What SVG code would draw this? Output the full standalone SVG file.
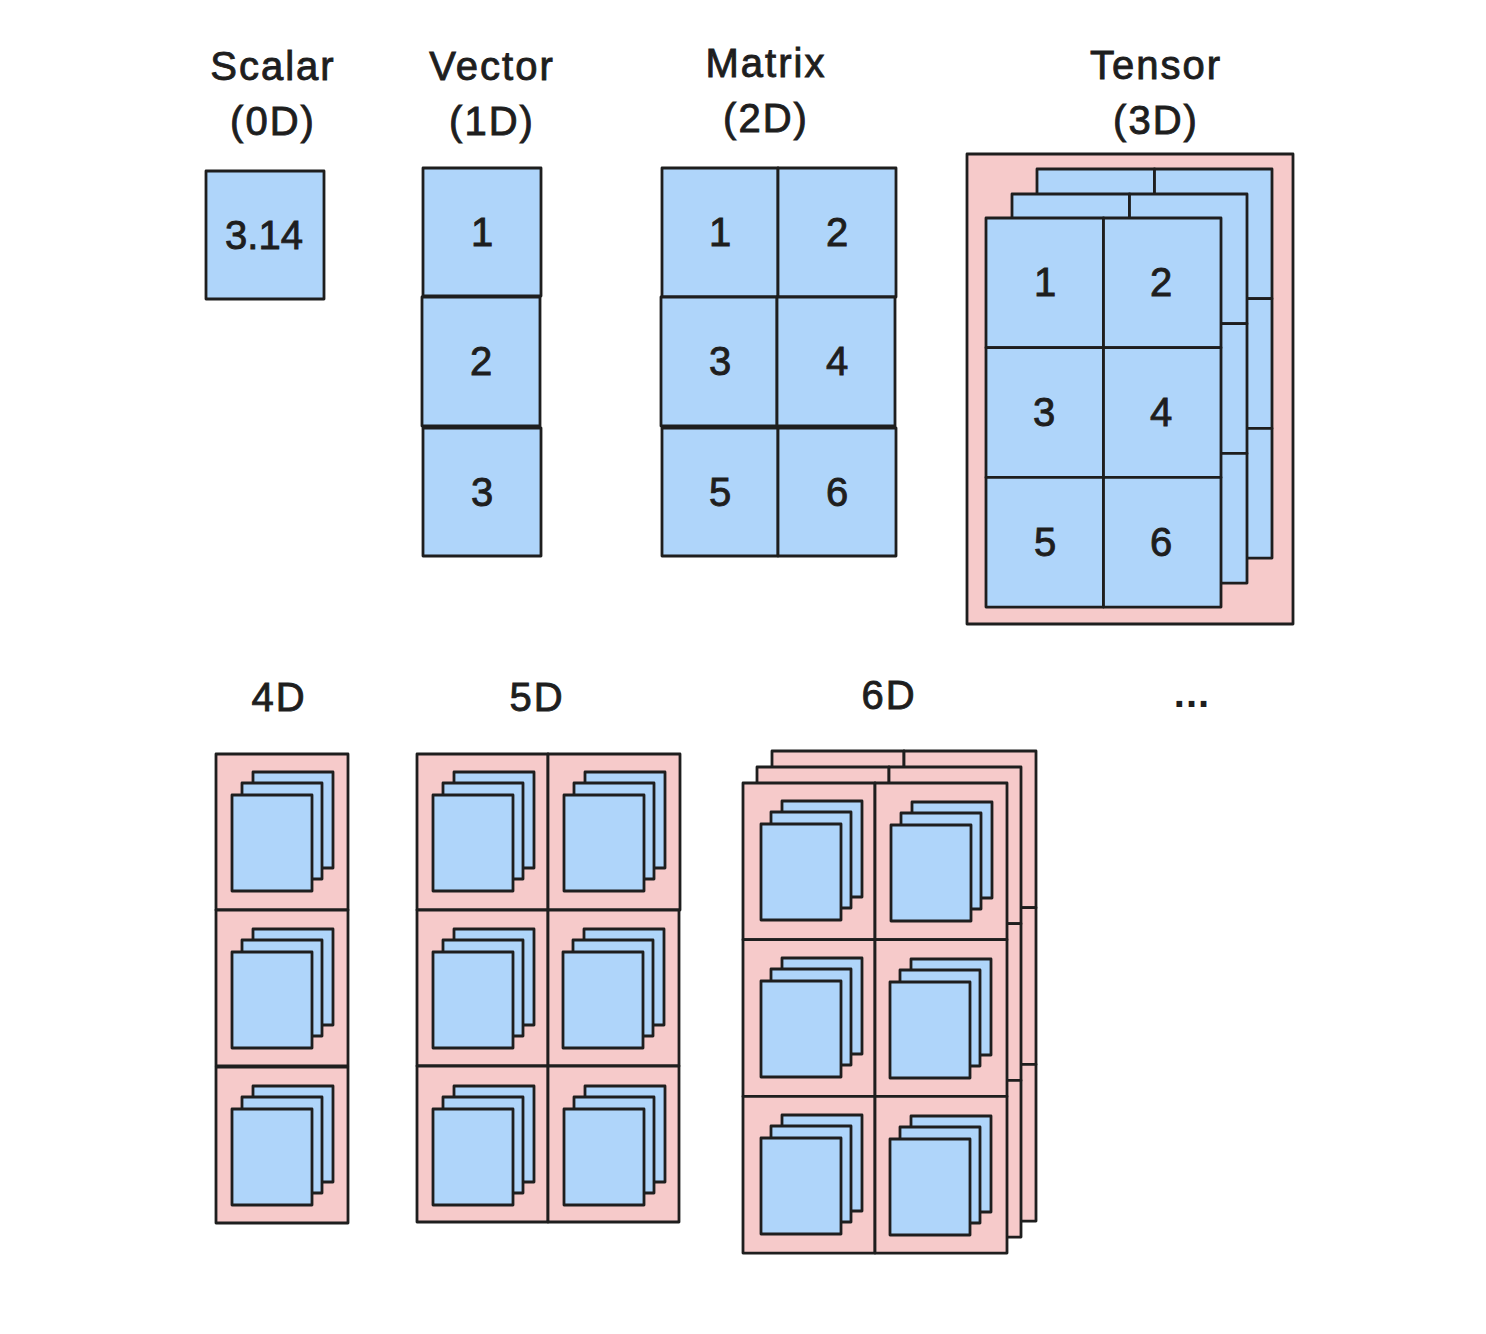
<svg xmlns="http://www.w3.org/2000/svg" xmlns:xlink="http://www.w3.org/1999/xlink" width="1486" height="1334" viewBox="0 0 1486 1334">
<style>
.b{fill:#afd5fa;stroke:#1e1e1e;stroke-width:2.8;stroke-linejoin:round}
.p{fill:#f6caca;stroke:#1e1e1e;stroke-width:2.8;stroke-linejoin:round}
.t{font-family:"Liberation Sans","DejaVu Sans",sans-serif;font-size:40px;fill:#1e1e1e;stroke:#1e1e1e;stroke-width:0.9;text-anchor:middle;letter-spacing:2px}
.n{font-family:"Liberation Sans","DejaVu Sans",sans-serif;font-size:40px;fill:#1e1e1e;stroke:#1e1e1e;stroke-width:0.9;text-anchor:middle}
.d{font-family:"Liberation Sans","DejaVu Sans",sans-serif;font-size:40px;font-weight:bold;fill:#1e1e1e;text-anchor:middle;letter-spacing:1px}
</style>
<defs>
<g id="stack">
<rect class="b" x="37" y="18" width="80" height="96"/>
<rect class="b" x="26" y="29" width="80" height="96"/>
<rect class="b" x="16" y="41" width="80" height="96"/>
</g>
<g id="tgrid">
<rect class="b" x="0" y="0" width="117.5" height="129.7"/>
<rect class="b" x="117.5" y="0" width="117.5" height="129.7"/>
<rect class="b" x="0" y="129.7" width="117.5" height="129.7"/>
<rect class="b" x="117.5" y="129.7" width="117.5" height="129.7"/>
<rect class="b" x="0" y="259.4" width="117.5" height="129.7"/>
<rect class="b" x="117.5" y="259.4" width="117.5" height="129.7"/>
</g>
<g id="pgrid">
<rect class="p" x="0" y="0" width="132" height="156.7"/>
<rect class="p" x="132" y="0" width="132" height="156.7"/>
<rect class="p" x="0" y="156.7" width="132" height="156.7"/>
<rect class="p" x="132" y="156.7" width="132" height="156.7"/>
<rect class="p" x="0" y="313.4" width="132" height="156.7"/>
<rect class="p" x="132" y="313.4" width="132" height="156.7"/>
</g>
</defs>

<g id="labels">
<text class="t" x="273" y="80">Scalar</text>
<text class="t" x="273" y="135">(0D)</text>
<text class="t" x="492" y="80">Vector</text>
<text class="t" x="492" y="135">(1D)</text>
<text class="t" x="766" y="77">Matrix</text>
<text class="t" x="766" y="132">(2D)</text>
<text class="t" x="1156" y="79">Tensor</text>
<text class="t" x="1156" y="134">(3D)</text>
<text class="t" x="279" y="711">4D</text>
<text class="t" x="537" y="711">5D</text>
<text class="t" x="889" y="709">6D</text>
<text class="d" x="1192" y="707">...</text>
</g>

<g id="scalar">
<rect class="b" x="206" y="171" width="118" height="128"/>
<text class="n" x="264" y="249">3.14</text>
</g>

<g id="vector">
<rect class="b" x="423" y="168" width="118" height="128"/>
<rect class="b" x="422" y="297" width="118" height="129"/>
<rect class="b" x="423" y="428" width="118" height="128"/>
<text class="n" x="482" y="246">1</text>
<text class="n" x="481" y="375">2</text>
<text class="n" x="482" y="506">3</text>
</g>

<g id="matrix">
<rect class="b" x="662" y="168" width="116" height="129"/>
<rect class="b" x="778" y="168" width="118" height="129"/>
<rect class="b" x="661" y="297" width="116" height="129"/>
<rect class="b" x="777" y="297" width="118" height="129"/>
<rect class="b" x="662" y="428" width="116" height="128"/>
<rect class="b" x="778" y="428" width="118" height="128"/>
<text class="n" x="720" y="246">1</text>
<text class="n" x="837" y="246">2</text>
<text class="n" x="720" y="375">3</text>
<text class="n" x="837" y="375">4</text>
<text class="n" x="720" y="506">5</text>
<text class="n" x="837" y="506">6</text>
</g>

<g id="tensor">
<rect class="p" x="967" y="154" width="326" height="470"/>
<use xlink:href="#tgrid" x="1037" y="169"/>
<use xlink:href="#tgrid" x="1012" y="194"/>
<use xlink:href="#tgrid" x="986" y="218"/>
<text class="n" x="1045" y="296">1</text>
<text class="n" x="1161" y="296">2</text>
<text class="n" x="1044" y="426">3</text>
<text class="n" x="1161" y="426">4</text>
<text class="n" x="1045" y="556">5</text>
<text class="n" x="1161" y="556">6</text>
</g>

<g id="d4">
<rect class="p" x="216" y="754" width="132" height="156"/>
<rect class="p" x="216" y="910" width="132" height="156"/>
<rect class="p" x="216" y="1067" width="132" height="156"/>
<use xlink:href="#stack" x="216" y="754"/>
<use xlink:href="#stack" x="216" y="911"/>
<use xlink:href="#stack" x="216" y="1068"/>
</g>

<g id="d5">
<rect class="p" x="417" y="754" width="131" height="156"/>
<rect class="p" x="548" y="754" width="132" height="156"/>
<rect class="p" x="417" y="910" width="131" height="156"/>
<rect class="p" x="548" y="910" width="131" height="156"/>
<rect class="p" x="417" y="1066" width="131" height="156"/>
<rect class="p" x="548" y="1066" width="131" height="156"/>
<use xlink:href="#stack" x="417" y="754"/>
<use xlink:href="#stack" x="548" y="754"/>
<use xlink:href="#stack" x="417" y="911"/>
<use xlink:href="#stack" x="547" y="911"/>
<use xlink:href="#stack" x="417" y="1068"/>
<use xlink:href="#stack" x="548" y="1068"/>
</g>

<g id="d6">
<use xlink:href="#pgrid" x="772" y="751"/>
<use xlink:href="#pgrid" x="757" y="767"/>
<use xlink:href="#pgrid" x="743" y="783"/>
<use xlink:href="#stack" x="745" y="783"/>
<use xlink:href="#stack" x="875" y="784"/>
<use xlink:href="#stack" x="745" y="940"/>
<use xlink:href="#stack" x="874" y="941"/>
<use xlink:href="#stack" x="745" y="1097"/>
<use xlink:href="#stack" x="874" y="1098"/>
</g>

<g id="connectors"/>
</svg>
